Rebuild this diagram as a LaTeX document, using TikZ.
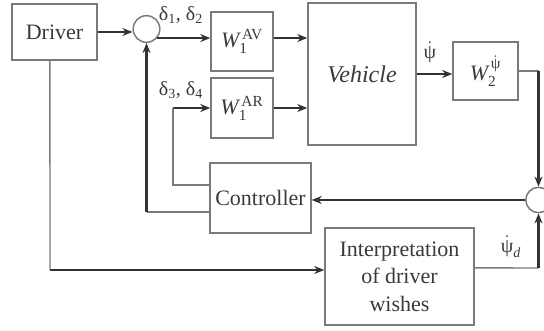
\documentclass[tikz,border=0pt]{standalone}
\usepackage{fontspec}
\usepackage{amsmath}
\setmainfont{Liberation Serif}
\usetikzlibrary{arrows.meta}
\definecolor{boxc}{HTML}{7A7A7A}
\definecolor{darkc}{HTML}{333333}
\definecolor{txtc}{HTML}{3A3A3A}
\newcommand{\psid}{\dot{\text{ψ}}}
\begin{document}
\begin{tikzpicture}[x=0.75pt,y=-0.75pt,
  every node/.style={text=txtc},
  box/.style={draw=boxc, line width=1.1pt, inner sep=0pt, font=\fontsize{16.5}{20.6}\selectfont},
  sum/.style={draw=boxc, line width=1.1pt, circle, inner sep=0pt, minimum size=20pt},
  dline/.style={draw=darkc, line width=1.9pt},
  gline/.style={draw=boxc, line width=1.1pt},
  arr/.style={-{Stealth[length=7.5pt,width=6pt]}},
  lab/.style={font=\fontsize{15}{18}\selectfont, inner sep=0pt}
]
\useasboundingbox (0,0) rectangle (544,331);
% blocks
\node[box, minimum width=63.75pt, minimum height=42pt] (driver) at (54.5,32) {Driver};
\node[sum] (s1) at (146.5,29) {};
\node[box, minimum width=46.5pt, minimum height=44.25pt] (w1av) at (242,41.5) {$\text{\itshape W}_{\text{1}}^{\,\text{AV}}$};
\node[box, minimum width=46.5pt, minimum height=45pt] (w1ar) at (242,108) {$\text{\itshape W}_{\text{1}}^{\,\text{AR}}$};
\node[box, minimum width=81pt, minimum height=106.5pt, font=\fontsize{18}{22}\selectfont\itshape] (veh) at (362,74) {Vehicle};
\node[box, minimum width=48.75pt, minimum height=43.5pt] (w2) at (485.5,71) {$\text{\itshape W}_{\text{2}}^{\,\psid}$};
\node[sum, minimum size=19pt] (s2) at (538.5,200) {};
\node[box, minimum width=75.75pt, minimum height=52.5pt] (ctrl) at (260.5,198) {Controller};
\node[box, minimum width=111.75pt, minimum height=72.75pt, align=center] (interp) at (399.5,276.5) {Interpretation\\of driver\\wishes};
% labels
\node[lab] (ld12) at (181,15) {δ\textsubscript{1}, δ\textsubscript{2}};
\node[lab] (ld34) at (181,90) {δ\textsubscript{3}, δ\textsubscript{4}};
\node[lab] (lpsi) at (430,52) {$\psid$};
\node[lab] (lpsid) at (511,247) {$\psid_{\text{\itshape d}}$};
% helper coordinates
\coordinate (c3) at (173,108);
\coordinate (k1) at (146.5,212);
\coordinate (k2) at (538.5,71);
\coordinate (k3) at (538.5,268);
\coordinate (k4) at (50,270);
% connectors
\draw[dline,arr] (driver.east) -- (driver.east -| s1.west);
\draw[dline,arr] (s1.-40) -- (s1.-40 -| w1av.west);
\draw[dline,arr] ([yshift=2.6pt]w1av.east) -- ([yshift=2.6pt]w1av.east -| veh.west);
\draw[dline,arr] (w1ar.east) -- (w1ar.east -| veh.west);
\draw[dline,arr] (c3) -- (w1ar.west);
\draw[gline] ([yshift=9.75pt]ctrl.west) -| (c3);
\draw[gline] ([yshift=-10.5pt]ctrl.west) -- (k1);
\draw[dline,arr] (k1) -- (s1.south);
\draw[dline,arr] (veh.east) -- (veh.east -| w2.west);
\draw[gline] (w2.east) -- (k2);
\draw[dline,arr] (k2) -- (s2.north);
\draw[dline,arr] (s2.west) -- (s2.west -| ctrl.east);
\draw[gline] ([yshift=6.4pt]interp.east) -- (k3);
\draw[dline,arr] (k3) -- (s2.south);
\draw[gline] ([xshift=-3.4pt]driver.south) -- (k4);
\draw[dline,arr] (k4) -- (k4 -| interp.west);
\end{tikzpicture}
\end{document}
